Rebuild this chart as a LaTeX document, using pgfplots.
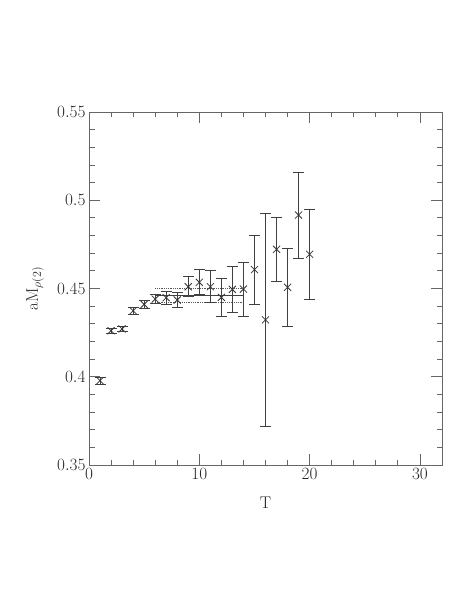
\documentclass[border=0pt]{standalone}
\usepackage{pgfplots}
\pgfplotsset{compat=1.18}
\pgfplotstableread{
T m e
1 0.3978 0.0020
2 0.4261 0.0015
3 0.4271 0.0015
4 0.4374 0.0020
5 0.4410 0.0022
6 0.4440 0.0026
7 0.4448 0.0038
8 0.4435 0.0042
9 0.4510 0.0057
10 0.4535 0.0071
11 0.4510 0.0090
12 0.4450 0.0110
13 0.4495 0.0130
14 0.4497 0.0153
15 0.4607 0.0196
16 0.4322 0.0605
17 0.4722 0.0182
18 0.4507 0.0220
19 0.4916 0.0244
20 0.4694 0.0254
}\rhodata
\begin{document}
\begin{tikzpicture}
\begin{axis}[
  at={(0bp,0bp)}, anchor=south west,
  scale only axis, width=353bp, height=353bp,
  xmin=0, xmax=32, ymin=0.35, ymax=0.55,
  xtick={0,10,20,30}, minor x tick num=4,
  ytick={0.35,0.4,0.45,0.5,0.55}, minor y tick num=4,
  yticklabel style={/pgf/number format/fixed, /pgf/number format/precision=2},
  tick align=inside,
  major tick length=10.5bp, minor tick length=5.5bp,
  axis line style={black!60, line width=0.9bp},
  every tick/.style={black!60, line width=0.8bp},
  tick label style={font=\fontsize{17}{20}\selectfont, text=black!85},
  label style={font=\fontsize{17}{20}\selectfont, text=black!85},
  xlabel={T}, ylabel={aM$_{\rho(2)}$},
  xlabel style={at={(axis description cs:0.5,-0.108)}, anchor=center},
  ylabel style={at={(axis description cs:-0.153,0.5)}, anchor=center},
]
% plateau fit with its band
\addplot[black!65, line width=0.8bp, densely dotted] coordinates {(6,0.4501) (14,0.4501)};
\addplot[black!65, line width=0.8bp, densely dotted] coordinates {(6,0.4424) (14,0.4424)};
\addplot[black!75, line width=0.8bp] coordinates {(6,0.4463) (14,0.4463)};
\addplot[black!80, only marks, mark=x, mark size=5bp,
  mark options={line width=0.8bp},
  error bars/.cd, y dir=both, y explicit,
  error mark=|,
  error bar style={black!75, line width=0.8bp},
  error mark options={black!75, mark size=5.5bp, line width=0.8bp}]
  table[x=T, y=m, y error=e]{\rhodata};
\end{axis}
\path[use as bounding box] (-89bp,-130bp) rectangle (371bp,465bp);
\end{tikzpicture}
\end{document}
